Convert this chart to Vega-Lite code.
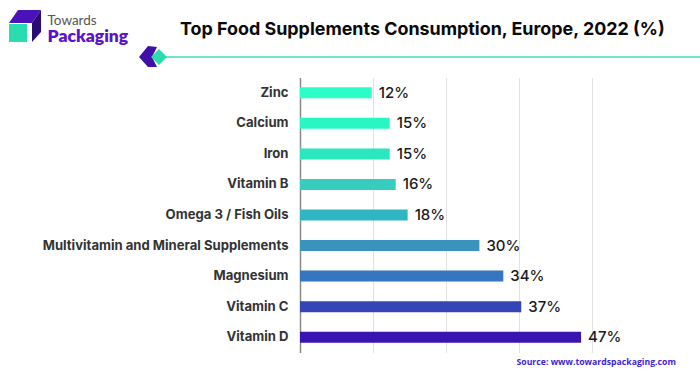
{
"$schema":"https://vega.github.io/schema/vega-lite/v6.json",
"width":292,"height":275,
"autosize":{"type":"none"},
"padding":{"left":300,"top":77.5,"right":108,"bottom":23.5},
"background":"white",
"title":{"text":"Top Food Supplements Consumption, Europe, 2022 (%)","anchor":"start","frame":"group","dx":-120,"dy":47,"offset":0,"baseline":"bottom","font":"Inter","fontSize":17.9,"fontWeight":700,"color":"#0a0a0a"},
"config":{"view":{"stroke":null}},
"resolve":{"scale":{"x":"independent","y":"independent","color":"independent"},"axis":{"x":"independent","y":"independent"}},
"layer":[
{
"data":{"values":[
{"name":"Zinc","pct":12,"label":"12%"},{"name":"Calcium","pct":15,"label":"15%"},{"name":"Iron","pct":15,"label":"15%"},{"name":"Vitamin B","pct":16,"label":"16%"},{"name":"Omega 3 / Fish Oils","pct":18,"label":"18%"},{"name":"Multivitamin and Mineral Supplements","pct":30,"label":"30%"},{"name":"Magnesium","pct":34,"label":"34%"},{"name":"Vitamin C","pct":37,"label":"37%"},{"name":"Vitamin D","pct":47,"label":"47%"}]},
"encoding":{
"y":{"field":"name","type":"nominal","sort":null,"scale":{"paddingInner":0,"paddingOuter":0},
"axis":{"title":null,"ticks":false,"grid":false,"labelPadding":12,"labelFont":"Inter","labelFontSize":13.1,"labelFontWeight":700,"labelColor":"#333333","labelLimit":290,"domainColor":"#8a8a8a","domainWidth":1.5}},
"x":{"field":"pct","type":"quantitative","scale":{"domain":[0,48.83],"nice":false},
"axis":{"values":[12.2,24.4,36.6,48.8],"labels":false,"ticks":false,"domain":false,"grid":true,"gridColor":"#e2e2e2","gridWidth":1,"title":"Source: www.towardspackaging.com","titleFont":"Open Sans","titleFontSize":8.7,"titleFontWeight":700,"titleColor":"#3f1fd0","titleAlign":"left","titleBaseline":"alphabetic","titleX":216,"titleY":12}}
},
"layer":[
{"mark":{"type":"bar","height":{"band":0.36}},
"encoding":{"color":{"field":"name","type":"nominal","sort":null,"legend":null,"scale":{"range":["#2affc9","#28f7c4","#2ce6c0","#36cdbf","#30b6c3","#3a93bc","#3476bf","#3545b7","#3a14b0"]}}}},
{"mark":{"type":"text","align":"left","dx":7,"font":"Inter","fontSize":15,"fontWeight":500,"color":"#1a1a1a"},
"encoding":{"text":{"field":"label","type":"nominal"}}}
]
},
{
"data":{"values":[{"part":"logo","u":25,"v":26}]},
"encoding":{
"x":{"field":"u","type":"quantitative","scale":{"domain":[0,700],"range":[-300,400],"nice":false,"zero":false},
"axis":{"orient":"top","labels":false,"ticks":false,"domain":false,"grid":false,"title":"Packaging","titleFont":"Lato","titleFontSize":17.5,"titleFontWeight":800,"titleColor":"#5a12cc","titleAlign":"left","titleBaseline":"alphabetic","titleX":-253,"titleY":-36}},
"y":{"field":"v","type":"quantitative","scale":{"domain":[0,376],"range":[-77.5,298.5],"nice":false,"zero":false},
"axis":{"orient":"left","labels":false,"ticks":false,"domain":false,"grid":false,"title":"Towards","titleAngle":0,"titleFont":"Lato","titleFontSize":13.5,"titleFontWeight":400,"titleColor":"#555555","titleAlign":"left","titleBaseline":"alphabetic","titleX":-253,"titleY":-53}}
},
"layer":[
{"mark":{"type":"point","filled":true,"opacity":1,"size":4,"color":"#4a12b8","shape":"M-16 -3 L-7 -16 L16 -16 L7 -3 Z"}},
{"mark":{"type":"point","filled":true,"opacity":1,"size":4,"color":"#2d0a72","shape":"M7 -3 L16 -16 L16 6 L7 16 Z"}},
{"mark":{"type":"point","filled":true,"opacity":1,"size":4,"color":"#2bdcae","shape":"M-16 -2 L2 -2 L2 16 L-16 16 Z"}},
{"data":{"values":[{"u":148,"v":57}]},"mark":{"type":"point","filled":true,"opacity":1,"size":4,"color":"#3f0fa8","shape":"M-9 0 L0 -11 L9 -10 L4 0 L9 10 L0 10 Z"}},
{"data":{"values":[{"u":165,"v":57,"u2":700}]},"mark":{"type":"rule","color":"#3fdcb0","strokeWidth":1.5,"clip":false},"encoding":{"x":{"field":"u","type":"quantitative"},"x2":{"field":"u2"},"y":{"field":"v","type":"quantitative"}}},
{"data":{"values":[{"u":159,"v":57}]},"mark":{"type":"point","filled":true,"opacity":1,"size":4,"color":"#2bdcae","shape":"M-8 0 L0 -8 L8 0 L0 8 Z"}}
]
}
]
}
